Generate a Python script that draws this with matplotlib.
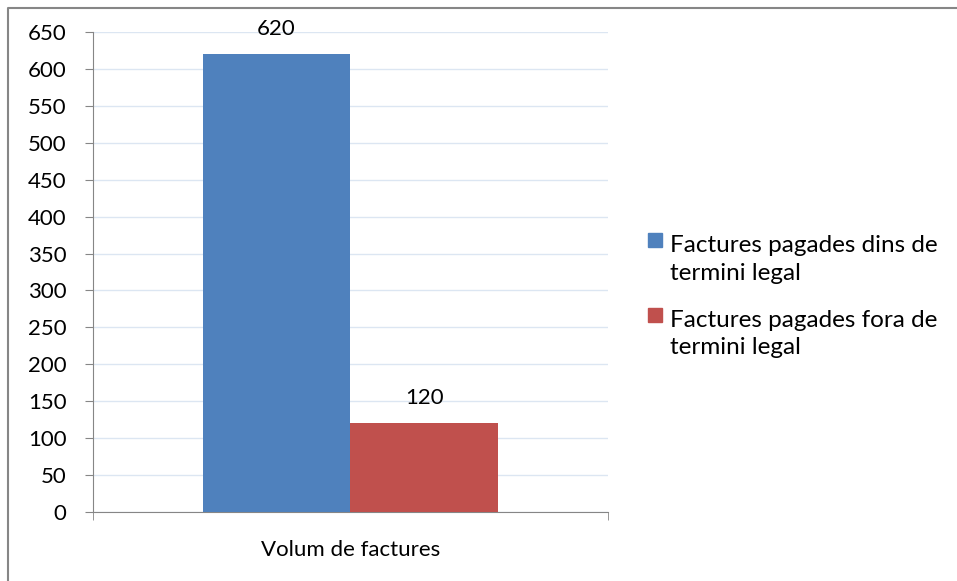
import matplotlib
matplotlib.use('Agg')
import matplotlib.pyplot as plt
from matplotlib.lines import Line2D
from matplotlib.patches import Rectangle

plt.rcParams['font.family'] = ['Lato', 'DejaVu Sans']

# Data
category = 'Volum de factures'
series = ['Factures pagades dins de\ntermini legal', 'Factures pagades fora de\ntermini legal']
values = [620, 120]
colors = ['#4f81bd', '#c0504d']
yticks = list(range(0, 651, 50))

W, H = 957, 581
fig = plt.figure(figsize=(W / 100, H / 100), dpi=100)
ax = fig.add_axes([93 / W, 1 - 512 / H, (608 - 93) / W, (512 - 32) / H])

width = 148 / 515
offsets = [-width / 2, width / 2]
for off, val, col, lab in zip(offsets, values, colors, series):
    ax.bar(off, val, width=width, color=col, label=lab, zorder=3)
    ax.annotate(str(val), (off, val), xytext=(0, 11), textcoords='offset points',
                ha='center', va='bottom', fontsize=16, color='black')

ax.set_xlim(-0.5, 0.5)
ax.set_ylim(0, 650)
ax.set_yticks(yticks)
ax.tick_params(axis='y', labelsize=16, length=6, color='#868686', pad=13)
ax.set_xticks([0])
ax.set_xticklabels([category], fontsize=16)
ax.set_xticks([-0.5, 0.5], minor=True)
ax.tick_params(axis='x', which='major', length=0, pad=20)
ax.tick_params(axis='x', which='minor', length=6, color='#868686')
ax.grid(axis='y', color='#dce6f2', linewidth=1, zorder=0)
for s in ['top', 'right']:
    ax.spines[s].set_visible(False)
for s in ['left', 'bottom']:
    ax.spines[s].set_color('#868686')
ax.set_axisbelow(True)

# legend, Excel style: square next to first line of each label
legend_tops = [252, 327]  # baseline of first line, px from top
for lab, col, y0 in zip(series, colors, legend_tops):
    fig.add_artist(Rectangle((648 / W, 1 - (y0 - 5) / H), 14 / W, 14 / H,
                             transform=fig.transFigure, color=col))
    for i, line in enumerate(lab.split('\n')):
        fig.text(670 / W, 1 - (y0 + 27.5 * i) / H, line, fontsize=17.5,
                 ha='left', va='baseline')

# outer chart border
fig.add_artist(Line2D([8 / W, 8 / W, 1.0], [0.0, 1 - 7.5 / H, 1 - 7.5 / H],
                      transform=fig.transFigure, color='#868686', linewidth=1.5))

fig.savefig('out.png', dpi=100)
